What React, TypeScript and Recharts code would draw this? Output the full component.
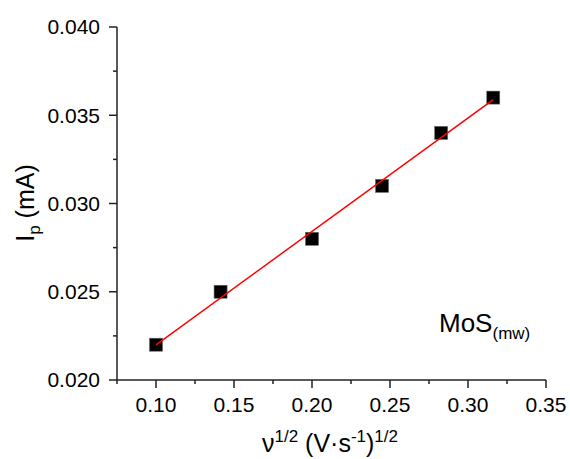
import React from 'react';
import { ScatterChart, Scatter, XAxis, YAxis, Customized } from 'recharts';

const xValues = [0.1, 0.1414, 0.2, 0.2449, 0.2828, 0.3162];
const yValues = [0.022, 0.025, 0.028, 0.031, 0.034, 0.036];
const fitX = [0.1, 0.3162];
const fitY = [0.02199, 0.03589];
const xMajorTicks = [0.1, 0.15, 0.2, 0.25, 0.3, 0.35];
const xMinorTicks = [0.075, 0.125, 0.175, 0.225, 0.275, 0.325];
const yMajorTicks = [0.02, 0.025, 0.03, 0.035, 0.04];
const yMinorTicks = [0.0225, 0.0275, 0.0325, 0.0375];

const points = xValues.map((x, i) => ({ x, y: yValues[i] }));
const fitData = fitX.map((x, i) => ({ x, y: fitY[i] }));

const FONT = '"Liberation Sans", Arial, sans-serif';
const AXIS_COLOR = '#222';

const isIn = (v: number, arr: number[]) => arr.some((a) => Math.abs(a - v) < 1e-6);

const XTick = (props: any) => {
  const { x, y, payload } = props;
  const major = isIn(payload.value, xMajorTicks);
  return (
    <g>
      <line x1={x} x2={x} y1={y} y2={y + (major ? 8 : 4)} stroke={AXIS_COLOR} strokeWidth={1.5} />
      {major && (
        <text x={x} y={y + 17} dy="0.71em" textAnchor="middle" fontSize={21} fontFamily={FONT} fill="#000">
          {payload.value.toFixed(2)}
        </text>
      )}
    </g>
  );
};

const YTick = (props: any) => {
  const { x, y, payload } = props;
  const major = isIn(payload.value, yMajorTicks);
  return (
    <g>
      <line x1={x - (major ? 8 : 4)} x2={x} y1={y} y2={y} stroke={AXIS_COLOR} strokeWidth={1.5} />
      {major && (
        <text x={x - 17} y={y} dy="0.355em" textAnchor="end" fontSize={21} fontFamily={FONT} fill="#000">
          {payload.value.toFixed(3)}
        </text>
      )}
    </g>
  );
};

const SquareShape = (p: any) => (
  <rect x={p.cx - 6.5} y={p.cy - 6.5} width={13} height={13} fill="#000" stroke="#666" strokeWidth={0.6} />
);

const NoShape = () => <g />;

const Labels = () => (
  <g fontFamily={FONT} fill="#000">
    <text x={330} y={452} textAnchor="middle" fontSize={25}>
      <tspan>ν</tspan>
      <tspan fontSize={17} dy={-10}>1/2</tspan>
      <tspan dy={10}> (V·s</tspan>
      <tspan fontSize={17} dy={-10}>-1</tspan>
      <tspan dy={10}>)</tspan>
      <tspan fontSize={17} dy={-10}>1/2</tspan>
    </text>
    <text x={34} y={203} textAnchor="middle" fontSize={25} transform="rotate(-90, 34, 203)">
      <tspan>I</tspan>
      <tspan fontSize={17} dy={6}>p</tspan>
      <tspan dy={-6}> (mA)</tspan>
    </text>
    <text x={439} y={332} fontSize={26}>
      <tspan>MoS</tspan>
      <tspan fontSize={17} dy={7}>(mw)</tspan>
    </text>
  </g>
);

export default function App() {
  return (
    <div style={{ position: 'absolute', left: 0, top: 0, width: 570, height: 459, background: '#fff' }}>
      <ScatterChart width={570} height={459} margin={{ top: 27, right: 24, bottom: 0, left: 0 }}>
        <XAxis
          type="number"
          dataKey="x"
          domain={[0.075, 0.35]}
          ticks={[...xMajorTicks, ...xMinorTicks].sort((a, b) => a - b)}
          tick={<XTick />}
          tickLine={false}
          tickSize={0}
          tickMargin={0}
          height={79}
          axisLine={{ stroke: AXIS_COLOR, strokeWidth: 1.5 }}
          allowDataOverflow
          interval={0}
        />
        <YAxis
          type="number"
          dataKey="y"
          domain={[0.02, 0.04]}
          ticks={[...yMajorTicks, ...yMinorTicks].sort((a, b) => a - b)}
          tick={<YTick />}
          tickLine={false}
          tickSize={0}
          tickMargin={0}
          width={117}
          axisLine={{ stroke: AXIS_COLOR, strokeWidth: 1.5 }}
          allowDataOverflow
          interval={0}
        />
        <Scatter data={points} shape={<SquareShape />} isAnimationActive={false} />
        <Scatter
          data={fitData}
          shape={<NoShape />}
          line={{ stroke: '#ff0000', strokeWidth: 1.5 }}
          isAnimationActive={false}
        />
        <Customized component={Labels} />
      </ScatterChart>
    </div>
  );
}
